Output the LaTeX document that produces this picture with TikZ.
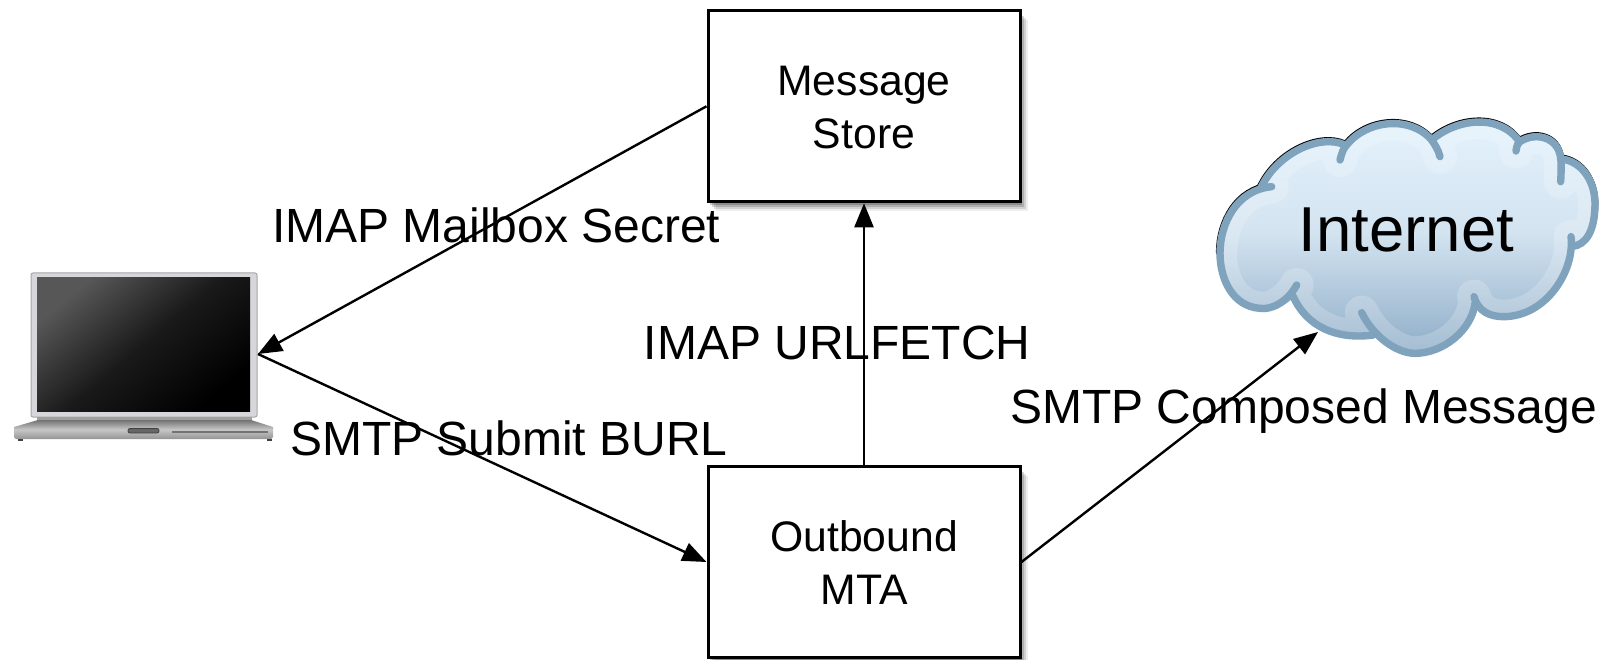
\documentclass[tikz,border=0pt]{standalone}
\usepackage{fontspec}
\setmainfont{Liberation Sans}
\usetikzlibrary{arrows.meta,shadows}
\definecolor{cloudblue}{HTML}{7FA2BD}
\definecolor{cloudtop}{HTML}{E4F3FD}
\definecolor{cloudmid}{HTML}{D3E3F0}
\definecolor{cloudbot}{HTML}{8EADC7}
\definecolor{lidgray}{HTML}{D6D6DB}
\def\lobeA{(272,295) .. controls (320,190) and (450,130) .. (525,165)}
\def\lobeB{(510,210) .. controls (515,190) and (520,175) .. (530,165) .. controls (590,90) and (720,75) .. (785,150) .. controls (795,165) and (805,180) .. (810,200)}
\def\lobeC{(785,150) .. controls (860,85) and (990,70) .. (1048,155)}
\def\lobeD{(1038,183) .. controls (1040,165) and (1045,158) .. (1050,155) .. controls (1095,125) and (1165,140) .. (1172,205) .. controls (1175,230) and (1173,250) .. (1172,275)}
\def\lobeE{(1175,207) .. controls (1240,215) and (1275,280) .. (1275,340) .. controls (1275,420) and (1250,465) .. (1205,470)}
\def\lobeF{(1203,440) .. controls (1215,540) and (1130,680) .. (1000,680) .. controls (960,680) and (925,665) .. (912,620)}
\def\lobeG{(915,640) .. controls (905,720) and (820,790) .. (735,790) .. controls (680,790) and (610,740) .. (575,668)}
\def\lobeH{(610,735) .. controls (500,750) and (410,710) .. (370,620)}
\def\lobeI{(380,585) .. controls (350,640) and (300,660) .. (270,655) .. controls (190,650) and (150,570) .. (150,490) .. controls (150,400) and (200,300) .. (305,290)}
\def\lobesAll{\lobeA \lobeB \lobeC \lobeD \lobeE \lobeF \lobeG \lobeH \lobeI}
\def\cloudOutline{(272,295) .. controls (320,190) and (450,130) .. (530,165) .. controls (590,90) and (720,75) .. (785,150) .. controls (860,85) and (990,70) .. (1048,155) .. controls (1095,125) and (1165,140) .. (1175,207) .. controls (1240,215) and (1275,280) .. (1275,340) .. controls (1275,420) and (1250,465) .. (1205,470) .. controls (1195,570) and (1130,680) .. (1000,680) .. controls (960,680) and (935,665) .. (920,650) .. controls (905,720) and (820,790) .. (735,790) .. controls (680,790) and (640,765) .. (610,735) .. controls (500,750) and (410,710) .. (370,625) .. controls (350,645) and (300,660) .. (270,655) .. controls (190,650) and (150,570) .. (150,490) .. controls (150,400) and (200,310) .. (272,295) -- cycle}
\tikzset{
  boxnode/.style={draw=black,fill=white,line width=3pt,minimum width=312pt,minimum height=191pt,
    inner sep=0pt,align=center,font=\fontsize{42.7}{53}\selectfont,
    drop shadow={shadow xshift=8pt,shadow yshift=-9pt,opacity=.07,fill=black},
    drop shadow={shadow xshift=6pt,shadow yshift=-7pt,opacity=.12,fill=black},
    drop shadow={shadow xshift=4pt,shadow yshift=-5pt,opacity=.16,fill=black},
    drop shadow={shadow xshift=2pt,shadow yshift=-3pt,opacity=.2,fill=black}},
  flowlabel/.style={anchor=base west,inner sep=0pt,font=\fontsize{48}{53}\selectfont},
  flow/.style={line width=2.4pt,-{Triangle[length=24pt,width=19pt]}},
  lobe/.style={line width=7.4pt,draw=cloudblue,line cap=round}
}
\begin{document}
\begin{tikzpicture}[x=1pt,y=-1pt]
\useasboundingbox (0,0) rectangle (1611,660);
% laptop
\draw[line width=1pt,draw=gray!70,fill=lidgray,rounded corners=2pt] (31,273) rectangle (257,417);
\shade[top color=black!66,bottom color=black,middle color=black!90,shading angle=40] (37,278) rectangle (250,411);
\fill[gray!75] (37,417) rectangle (252,421);
\shade[top color=black!55,bottom color=black!42,middle color=black!22,draw=none]
  (38,420) -- (251,420) -- (273,427) -- (273,437) -- (271,439) -- (16,439) -- (14,437) -- (14,427) -- cycle;
\fill[black!75] (18,439) rectangle (23,441);
\fill[black!75] (267,439) rectangle (272,441);
\draw[black!75,fill=black!60,line width=.8pt,rounded corners=2pt] (128,428.5) rectangle (159,433);
\fill[black!55] (172,431) rectangle (268,433);
\node[minimum width=244pt,minimum height=172pt,inner sep=0pt,outer sep=0pt] (laptop) at (136,354) {};
% cloud
\begin{scope}[shift={(1170pt,-90pt)},x=0.33333pt,y=-0.33333pt]
  \path[draw=black,line width=7.4pt,line cap=round,shift={(-0.4pt,0.9pt)}] \lobeA \lobeB \lobeC \lobeD \lobeE;
  \path[draw=black,line width=7.4pt,line cap=round,shift={(-0.4pt,0.9pt)}] (150,490) .. controls (150,400) and (200,300) .. (305,290);
  \shade[top color=cloudtop,bottom color=cloudbot,middle color=cloudmid] \cloudOutline;
  \begin{scope}
    \clip \cloudOutline;
    \draw[line width=34pt,white,opacity=.2,line cap=round] \lobesAll;
  \end{scope}
  \draw[lobe] \lobesAll;
\end{scope}
\node[anchor=base,inner sep=0pt,font=\fontsize{63.5}{70}\selectfont] (cloud) at (1406.5,252) {Internet};
\coordinate (cloudport) at (1318,332);
% boxes
\node[boxnode] (store) at (864,106.3) {\rule{0pt}{32pt}Message\\Store};
\node[boxnode] (mta) at (864,562) {\rule{0pt}{32pt}Outbound\\MTA};
% labels
\node[flowlabel] (l1) at (272,243) {IMAP Mailbox Secret};
\node[flowlabel] (l2) at (290,455) {SMTP Submit BURL};
\node[flowlabel] (l3) at (643.5,359) {IMAP URLFETCH};
\node[flowlabel] (l4) at (1010,423) {SMTP Composed Message};
% connectors
\draw[flow] (store.west) -- (laptop.east);
\draw[flow] (laptop.east) -- (mta.west);
\draw[flow] (mta.north) -- (store.south);
\draw[flow] (mta.east) -- (cloudport);
\end{tikzpicture}
\end{document}
